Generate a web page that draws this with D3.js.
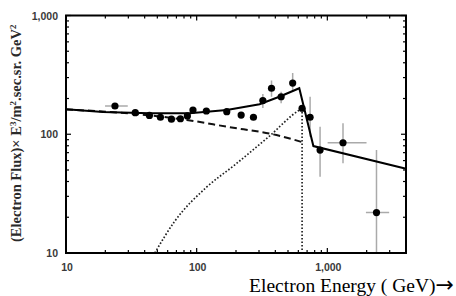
<!DOCTYPE html>
<html>
<head>
<meta charset="utf-8">
<script src="https://cdn.jsdelivr.net/npm/d3@7"></script>
<style>
  body { margin: 0; background: #fff; }
  svg { display: block; }
</style>
</head>
<body>
<svg id="chart" width="456" height="296"></svg>
<script>
// data (energy in GeV, flux x E^3)
let pointE    = [23.7, 33.9, 43.5, 52.8, 64.1, 75.1, 84.9, 93.7, 118.6, 170, 219, 272, 321, 374, 443, 543, 641, 738, 880, 1318, 2378]
let pointF    = [173, 152, 144, 139, 134, 135, 142.6, 160, 157, 155, 145, 139, 192, 244, 207, 270, 165.5, 139, 73.6, 84.8, 21.9]
let errLowF   = [null, null, null, null, null, null, null, null, null, null, null, null, 166, 207, 182, 228, 155, 95.2, 43.8, 57.1, 8]
let errHighF  = [null, null, null, null, null, null, null, null, null, null, null, null, 218, 283, 228, 328, 176, 207, 115.7, 124, 73.6]
let errLowE   = [19.9, null, null, null, null, null, null, null, null, null, null, null, null, null, null, null, null, null, null, 1005, 1974]
let errHighE  = [29.7, null, null, null, null, null, null, null, null, null, null, null, null, null, null, null, null, null, null, 1995, 2973]

let totalE  = [10, 19.2, 43.8, 88.4, 170, 303, 429, 610, 782, 3936]
let totalF  = [162, 154, 150, 150, 160, 179, 207, 244, 79.5, 51.5]

let backgroundE = [10, 43.8, 84, 170, 408, 667]
let backgroundF = [162, 144, 132, 115.7, 98.4, 84.8]

// rising part of the source curve, then its cut-off
let sourceE = [47.8, 67.9, 119, 195, 361, 611, 641]
let sourceF = [10, 18.5, 35.8, 55, 96.6, 160, 165]
let cutoffE = [641, 641]
let cutoffF = [165, 10]

let xTickValues = [10, 100, 1000]
let xTickLabels = ['10', '100', '1,000']
let yTickValues = [10, 100, 1000]
let yTickLabels = ['10', '100', '1,000']

let svg = d3.select('#chart')

let plotLeft = 66, plotRight = 406, plotTop = 15.5, plotBottom = 253

let x = d3.scaleLog().domain([10, 4000]).range([plotLeft, plotRight])
let y = d3.scaleLog().domain([10, 1000]).range([plotBottom, plotTop])

let clip = svg.append('clipPath').attr('id', 'plotclip')
clip.append('rect').attr('x', plotLeft).attr('y', plotTop).attr('width', plotRight - plotLeft).attr('height', plotBottom - plotTop)

let plot = svg.append('g').attr('clip-path', 'url(#plotclip)')

// error bars
let points = pointE.map((e, i) => {
    return {e: e, f: pointF[i], lf: errLowF[i], hf: errHighF[i], le: errLowE[i], he: errHighE[i]}
})

plot.selectAll('.vbar')
    .data(points.filter(p => p.lf !== null))
    .enter()
    .append('line')
    .attr('x1', p => x(p.e)).attr('x2', p => x(p.e))
    .attr('y1', p => y(p.lf)).attr('y2', p => y(p.hf))
    .attr('stroke', '#aaa').attr('stroke-width', 1.5)

plot.selectAll('.hbar')
    .data(points.filter(p => p.le !== null))
    .enter()
    .append('line')
    .attr('x1', p => x(p.le)).attr('x2', p => x(p.he))
    .attr('y1', p => y(p.f)).attr('y2', p => y(p.f))
    .attr('stroke', '#aaa').attr('stroke-width', 1.5)

let line = d3.line().x(d => x(d[0])).y(d => y(d[1]))
let smooth = d3.line().x(d => x(d[0])).y(d => y(d[1])).curve(d3.curveMonotoneX)

// source (dotted)
plot.append('path')
    .attr('d', smooth(d3.zip(sourceE, sourceF)))
    .attr('fill', 'none').attr('stroke', '#222')
    .attr('stroke-width', 1.7).attr('stroke-dasharray', '1.6,1.9')
plot.append('path')
    .attr('d', line(d3.zip(cutoffE, cutoffF)))
    .attr('fill', 'none').attr('stroke', '#222')
    .attr('stroke-width', 1.7).attr('stroke-dasharray', '1.6,1.9')

// background (dashed)
plot.append('path')
    .attr('d', smooth(d3.zip(backgroundE, backgroundF)))
    .attr('fill', 'none').attr('stroke', '#111')
    .attr('stroke-width', 2).attr('stroke-dasharray', '7,4')

// total (solid)
plot.append('path')
    .attr('d', line(d3.zip(totalE, totalF)))
    .attr('fill', 'none').attr('stroke', '#000')
    .attr('stroke-width', 2)

// points
plot.selectAll('.pt')
    .data(points)
    .enter()
    .append('circle')
    .attr('cx', p => x(p.e)).attr('cy', p => y(p.f))
    .attr('r', 3.6).attr('fill', '#000')

// ticks on all four sides, pointing inward
let xMinor = []
let yMinor = []
for (let d = 10; d < 10000; d *= 10) {
    for (let k = 2; k <= 9; k++) {
        if (d * k <= 4000) xMinor.push(d * k)
        if (d * k < 1000) yMinor.push(d * k)
    }
}

let ticks = svg.append('g').attr('stroke', '#000').attr('stroke-width', 1.2)

ticks.selectAll('.xb')
    .data(xMinor.concat(xTickValues))
    .enter()
    .append('line')
    .attr('x1', d => x(d)).attr('x2', d => x(d))
    .attr('y1', plotBottom).attr('y2', d => plotBottom - (xTickValues.includes(d) ? 5 : 3))
ticks.selectAll('.xt')
    .data(xMinor.concat(xTickValues))
    .enter()
    .append('line')
    .attr('x1', d => x(d)).attr('x2', d => x(d))
    .attr('y1', plotTop).attr('y2', d => plotTop + (xTickValues.includes(d) ? 5 : 3))
ticks.selectAll('.yl')
    .data(yMinor.concat(yTickValues))
    .enter()
    .append('line')
    .attr('y1', d => y(d)).attr('y2', d => y(d))
    .attr('x1', plotLeft).attr('x2', d => plotLeft + (yTickValues.includes(d) ? 5 : 3))
ticks.selectAll('.yr')
    .data(yMinor.concat(yTickValues))
    .enter()
    .append('line')
    .attr('y1', d => y(d)).attr('y2', d => y(d))
    .attr('x1', plotRight).attr('x2', d => plotRight - (yTickValues.includes(d) ? 5 : 3))

// frame
svg.append('rect')
    .attr('x', plotLeft).attr('y', plotTop)
    .attr('width', plotRight - plotLeft).attr('height', plotBottom - plotTop)
    .attr('fill', 'none').attr('stroke', '#000').attr('stroke-width', 2)

// tick labels
svg.selectAll('.xlab')
    .data(xTickValues)
    .enter()
    .append('text')
    .attr('x', d => x(d) + 1).attr('y', 271)
    .attr('text-anchor', 'middle')
    .attr('font-family', 'Liberation Sans, Arial, sans-serif')
    .attr('font-weight', 'bold')
    .attr('font-size', 10.5).attr('fill', '#3a3a3a')
    .text((d, i) => xTickLabels[i])

svg.selectAll('.ylab')
    .data(yTickValues)
    .enter()
    .append('text')
    .attr('x', plotLeft - 8).attr('y', d => y(d) + 4)
    .attr('text-anchor', 'end')
    .attr('font-family', 'Liberation Sans, Arial, sans-serif')
    .attr('font-weight', 'bold')
    .attr('font-size', 10.5).attr('fill', '#3a3a3a')
    .text((d, i) => yTickLabels[i])

// axis titles
let yTitle = svg.append('text')
    .attr('transform', 'translate(21,' + ((plotTop + plotBottom) / 2 - 1) + ') rotate(-90)')
    .attr('text-anchor', 'middle')
    .attr('font-family', 'Liberation Serif, Times New Roman, serif')
    .attr('font-weight', 'bold')
    .attr('font-size', 14.5).attr('fill', '#2a2a2a')
yTitle.append('tspan').text('(Electron Flux)× E')
yTitle.append('tspan').attr('font-size', 9).attr('dy', -5).text('3')
yTitle.append('tspan').attr('dy', 5).text('/m')
yTitle.append('tspan').attr('font-size', 9).attr('dy', -5).text('2')
yTitle.append('tspan').attr('dy', 5).text('.sec.sr. GeV')
yTitle.append('tspan').attr('font-size', 9).attr('dy', -5).text('2')

let xTitle = svg.append('text')
    .attr('x', 454).attr('y', 291.5)
    .attr('text-anchor', 'end')
    .attr('font-family', 'Liberation Serif, Times New Roman, serif')
    .attr('font-size', 19.5).attr('fill', '#000')
xTitle.append('tspan').text('Electron Energy ( GeV)')
xTitle.append('tspan').attr('font-family', 'DejaVu Sans, sans-serif').attr('font-size', 22).text('→')
</script>
</body>
</html>
